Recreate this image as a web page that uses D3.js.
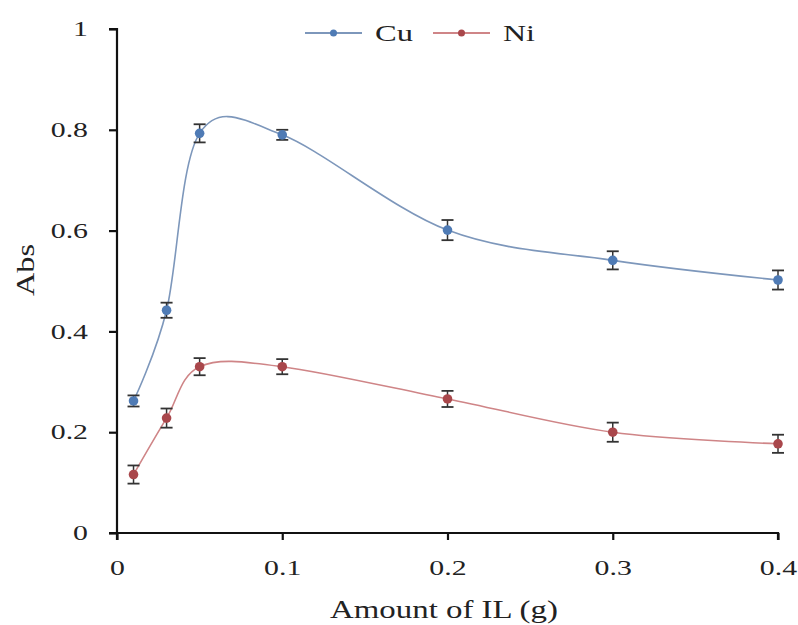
<!DOCTYPE html>
<html><head><meta charset="utf-8">
<script src="https://cdn.jsdelivr.net/npm/d3@7"></script>
<style>body{margin:0;background:#fff}svg{display:block}text{font-family:"Liberation Serif","Times New Roman",serif;fill:#222}</style>
</head><body>
<script>
const xValues = [0.01, 0.03, 0.05, 0.1, 0.2, 0.3, 0.4];
const cuValues = [0.262, 0.442, 0.793, 0.790, 0.601, 0.541, 0.502];
const cuErrors = [0.011, 0.015, 0.018, 0.010, 0.020, 0.018, 0.019];
const niValues = [0.116, 0.228, 0.330, 0.330, 0.266, 0.200, 0.177];
const niErrors = [0.018, 0.019, 0.017, 0.015, 0.016, 0.019, 0.018];
const xTicks = [0, 0.1, 0.2, 0.3, 0.4];
const yTicks = [0, 0.2, 0.4, 0.6, 0.8, 1];
const seriesNames = ["Cu", "Ni"];

const W = 798, H = 625;
const svg = d3.select("body").append("svg").attr("width", W).attr("height", H);
const x = d3.scaleLinear().domain([0, 0.4]).range([117, 778]);
const y = d3.scaleLinear().domain([0, 1]).range([533, 29]);
const FONT = '"Liberation Serif","Times New Roman",serif';
const K = 1.42; // horizontal stretch of the reference text

// stretch glyphs horizontally around the text's own anchor point
function stretchText(sel, k) {
  sel.each(function() {
    const t = d3.select(this);
    const tx = +t.attr("x") || 0, ty = +t.attr("y") || 0;
    const prev = t.attr("transform") || "";
    t.attr("x", 0).attr("y", 0).attr("transform", `${prev} translate(${tx},${ty}) scale(${k},1)`);
  });
}
function fitText(sel, target) {
  sel.each(function() {
    const w = this.getComputedTextLength();
    stretchText(d3.select(this), target / w);
  });
}

const series = [
  {name: seriesNames[0], values: cuValues, errors: cuErrors, line: "#7d97bb", marker: "#4f7bb5"},
  {name: seriesNames[1], values: niValues, errors: niErrors, line: "#cf8587", marker: "#a9474b"}
];

// axes
const fmt = d => d === 0 ? "0" : d3.format("")(d);
const yAxis = svg.append("g").attr("transform", `translate(${x(0)},0)`)
  .call(d3.axisLeft(y).tickValues(yTicks).tickFormat(fmt).tickSize(8).tickPadding(21));
const xAxis = svg.append("g").attr("transform", `translate(0,${y(0)})`)
  .call(d3.axisBottom(x).tickValues(xTicks).tickFormat(fmt).tickSize(7).tickPadding(20));
[xAxis, yAxis].forEach(g => {
  g.attr("font-family", FONT);
  g.select(".domain").attr("stroke", "#111").attr("stroke-width", 2.2);
  g.selectAll(".tick line").attr("stroke", "#111").attr("stroke-width", 2.2);
  g.selectAll(".tick text").attr("font-size", 21).attr("fill", "#222").style("font-family", FONT);
  stretchText(g.selectAll(".tick text"), K);
});
xAxis.select(".domain").attr("d", `M${x(0)},7V0H${x(0.4)}V7`);
yAxis.select(".domain").attr("d", `M-8,${y(1)}H0V${y(0)}H-8`);

// lines
const line = d3.line().x((d, i) => x(xValues[i])).y(d => y(d)).curve(d3.curveCardinal.tension(0));
series.forEach(s => {
  svg.append("path").attr("d", line(s.values)).attr("fill", "none")
    .attr("stroke", s.line).attr("stroke-width", 1.6);
});

// error bars & markers
series.forEach(s => {
  const g = svg.append("g");
  s.values.forEach((v, i) => {
    const cx = x(xValues[i]);
    const y1 = y(v + s.errors[i]), y2 = y(v - s.errors[i]);
    g.append("line").attr("x1", cx).attr("x2", cx).attr("y1", y1).attr("y2", y2).attr("stroke", "#333").attr("stroke-width", 1.5);
    [y1, y2].forEach(yy => g.append("line").attr("x1", cx - 6).attr("x2", cx + 6).attr("y1", yy).attr("y2", yy).attr("stroke", "#333").attr("stroke-width", 1.8));
    g.append("circle").attr("cx", cx).attr("cy", y(v)).attr("r", 4.8).attr("fill", s.marker);
  });
});

// legend
const legendX = [305, 433];
const legendW = [38, 32];
series.forEach((s, i) => {
  const lx = legendX[i], ly = 33;
  svg.append("line").attr("x1", lx).attr("x2", lx + 57).attr("y1", ly).attr("y2", ly).attr("stroke", s.line).attr("stroke-width", 1.8);
  svg.append("circle").attr("cx", lx + 28.5).attr("cy", ly).attr("r", 3.5).attr("fill", s.marker);
  const t = svg.append("text").attr("x", lx + 70).attr("y", ly + 8).attr("font-size", 24).text(s.name);
  fitText(t, legendW[i]);
});

// axis titles
const xt = svg.append("text").attr("x", 444).attr("y", 618).attr("text-anchor", "middle").attr("font-size", 26).text("Amount of IL (g)");
fitText(xt, 228);
const yt = svg.append("text").attr("transform", "translate(34,270) rotate(-90)").attr("text-anchor", "middle").attr("font-size", 26).text("Abs");
fitText(yt, 52);
</script>
</body></html>
